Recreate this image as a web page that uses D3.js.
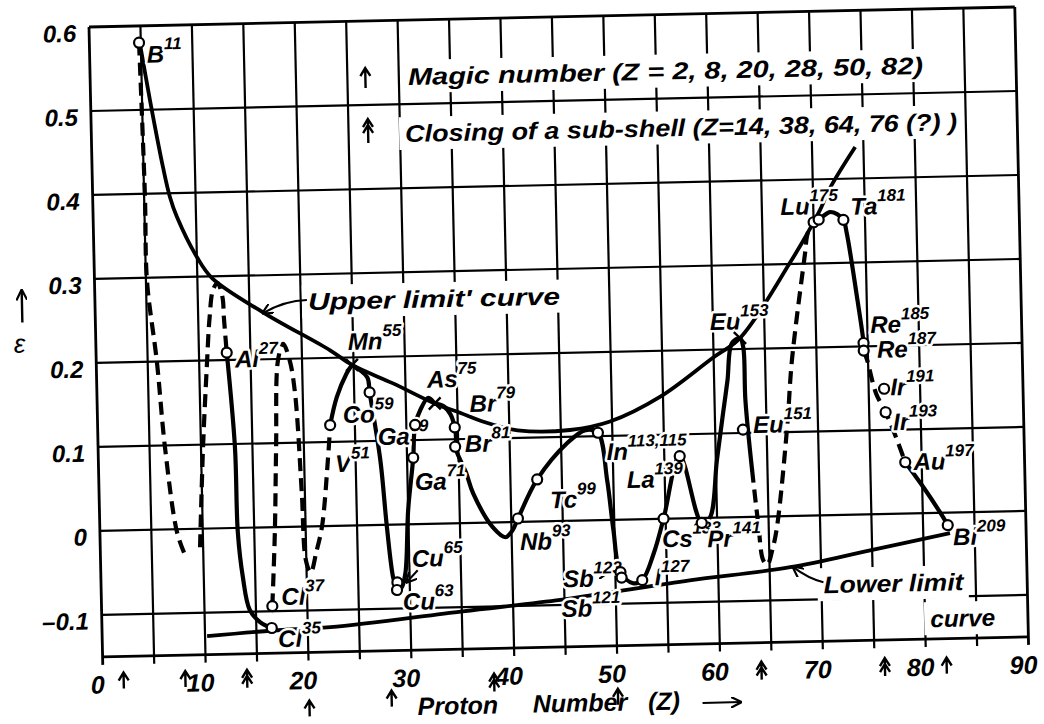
<!DOCTYPE html>
<meta charset="utf-8">
<script src="https://d3js.org/d3.v7.min.js"></script>
<style>
  body { margin: 0; background: #fff; }
  text { font-family: "Liberation Sans", Arial, sans-serif; font-style: italic; fill: #000; font-weight: bold; }
  .lab { font-size: 24px; stroke: #fff; stroke-width: 5px; paint-order: stroke; stroke-linejoin: round; }
  .tick text { font-size: 24px; font-weight: bold; }
</style>
<div id="chart"></div>
<script>
// the sheet was scanned a little crooked, so the whole plot is turned by "tilt"
var margin = { left: 89, top: 27 },
    width = 926, height = 630, tilt = -1.237;

// ---- data (Z, epsilon) ----
var xTicks = [0, 10, 20, 30, 40, 50, 60, 70, 80, 90];
var yTicks = [0.6, 0.5, 0.4, 0.3, 0.2, 0.1, 0, -0.1];
var magicZ = [2, 8, 20, 28, 50, 82];
var subShellZ = [14, 38, 64, 76];

var upperLimit = [[4.9,0.58],[5.77,0.5115],[6.9,0.431],[7.5,0.396],[8.15,0.3715],[10.0,0.3235],[11.43,0.298],
  [16.3,0.256],[22.75,0.209],[24.85,0.191],[28.8,0.168],[32.8,0.143],[35.3,0.131],[37.5,0.12],[40.8,0.109],
  [45.9,0.108],[49.8,0.117],[54.7,0.145],[59.9,0.19],[62.6,0.213],[67.6,0.301],[70.5,0.36],[71.7,0.39],[74.2,0.4375]];
var lowerLimit = [[10.2,-0.128],[16.6,-0.123],[22.2,-0.1205],[35.1,-0.105],[44.6,-0.094],[49.7,-0.086],
  [57.2,-0.074],[67,-0.061],[74.8,-0.043],[82.6,-0.0245]];

// measured curve, dashed parts
var dashB = [[4.83,0.58],[5.08,0.396],[5.1,0.297],[5.9,0.199],[6.5,0.098],[7.5,-0.004],[8.2,-0.03]];
var dashNa = [[9.7,-0.022],[10.2,0.097],[10.76,0.197],[11.1,0.25],[11.5,0.284],[11.95,0.292],[12.4,0.275],[12.5,0.25],[12.7,0.209]];
var dashK = [[16.6,-0.094],[17.0,-0.006],[17.3,0.095],[17.67,0.199],[18.2,0.218],[18.8,0.198],[19.25,0.159],
  [19.7,0.04],[19.95,-0.04],[20.4,-0.055],[21.0,-0.03],[21.6,0.0],[22.3,0.078],[22.6,0.12]];
var dashGd = [[63.5,0.056],[64.0,-0.01],[64.4,-0.052],[64.8,-0.057],[65.3,-0.04],[65.8,-0.013],[67.0,0.106],
  [67.6,0.185],[69.1,0.312],[69.4,0.336],[70.0,0.349]];
var dashIr = [[74.6,0.195],[74.9,0.184],[75.7,0.144],[76.6,0.121],[77.3,0.0995],[77.9,0.079],[78.4,0.061]];

// measured curve, solid parts
var solidAl = [[12.7,0.209],[13.3,0.096],[13.4,-0.005],[13.8,-0.059],[14.4,-0.098],[15.4,-0.113],[16.5,-0.12]];
var solidV = [[22.6,0.12],[23.3,0.153],[24.3,0.181],[24.85,0.191]];
var solidMn = [[24.85,0.191],[26.3,0.176],[26.5,0.158],[27.4,0.077],[27.9,-0.003],[28.4,-0.063],[28.75,-0.078]];
var solidCu = [[28.75,-0.078],[29.2,-0.075],[29.6,-0.058],[30.0,0.017],[30.6,0.079],[30.85,0.118],[31.4,0.136],[32.2,0.15],[32.8,0.143]];
var solidAs = [[32.8,0.143],[33.6,0.14],[34.3,0.13],[34.7,0.114],[34.8,0.1],[34.7,0.091],[35.7,0.06],[36.35,0.035],
  [38.2,-0.006],[39.4,-0.018],[40.1,-0.01],[40.65,0.004],[42.6,0.05],[45.6,0.0925],[47.4,0.1075],[48.6,0.104],
  [49.4,0.047],[49.9,-0.012],[50.5,-0.0625],[51.7,-0.076],[52.6,-0.0726],[53.8,-0.04],[54.8,0.0],[56.5,0.074],
  [58.5,-0.006],[59.3,0.0],[60.1,0.068],[60.8,0.124],[61.3,0.163],[61.8,0.207],[62.6,0.213],[62.9,0.202],[63.0,0.139],[63.5,0.056]];
var solidLu = [[70.0,0.349],[70.5,0.352],[71.6,0.3607],[72.3,0.358],[72.9,0.351],[73.2,0.335],[74.1,0.255],[74.6,0.204],[74.6,0.195]];
var solidAu = [[78.4,0.061],[80.1,0.031],[81.7,0.0],[82.4,-0.015]];

var openPoints = [[4.83,0.58],[12.7,0.209],[16.6,-0.094],[16.5,-0.12],[22.6,0.12],[26.5,0.158],[30.85,0.118],
  [30.6,0.079],[28.8,-0.069],[28.75,-0.078],[34.7,0.114],[34.7,0.091],[40.65,0.004],[42.6,0.05],[48.6,0.104],
  [50.5,-0.0625],[50.6,-0.069],[52.6,-0.0726],[54.8,0.0],[56.5,0.074],[58.5,-0.006],[62.7,0.104],[70.0,0.349],
  [70.5,0.352],[72.9,0.351],[74.6,0.204],[74.6,0.195],[76.5,0.149],[76.6,0.121],[78.4,0.061],[82.4,-0.015]];
var crossPoints = [[24.85,0.191],[32.8,0.143],[62.6,0.213]];

// element labels: symbol, mass number, Z, epsilon of the text baseline
var labels = [["B","11",5.56,0.556],["Al","27",13.5,0.191],["Cl","37",17.5,-0.093],["Cl","35",17.1,-0.143],
  ["V","51",23.0,0.064],["Mn","55",24.5,0.209],["Co","59",23.85,0.122],["Ga","69",27.2,0.095],
  ["Ga","71",30.7,0.0405],["Cu","65",30.25,-0.051],["Cu","63",29.3,-0.102],["As","75",32.1,0.162],
  ["Br","79",36.2,0.132],["Br","81",35.65,0.0844],["Nb","93",40.8,-0.0337],["Tc","99",43.8,0.0155],
  ["In","113,115",49.4,0.0712],["La","139",51.3,0.0374],["Cs","133",54.6,-0.034],["Pr","141",59.0,-0.035],
  ["Sb","123",44.9,-0.079],["Sb","121",44.7,-0.1145],["I","127",53.8,-0.079],["Eu","151",63.7,0.0997],
  ["Eu","153",59.7,0.2233],["Lu","175",66.8,0.3585],["Ta","181",73.6,0.357],["Re","185",75.3,0.2156],
  ["Re","187",75.9,0.186],["Ir","191",77.1,0.141],["Ir","193",77.3,0.0995],["Au","197",79.2,0.0514],
  ["Bi","209",82.9,-0.039]];

var svg = d3.select("#chart").append("svg")
  .attr("width", 1044).attr("height", 724)
  .style("background", "#fff");

svg.append("defs").append("marker")
  .attr("id", "head").attr("viewBox", "0 0 10 10").attr("refX", 9).attr("refY", 5)
  .attr("markerWidth", 11).attr("markerHeight", 11).attr("markerUnits", "userSpaceOnUse")
  .attr("orient", "auto")
  .append("path").attr("d", "M0,0 L10,5 L0,10").attr("fill", "none")
  .attr("stroke", "#000").attr("stroke-width", 2);

var g = svg.append("g")
  .attr("transform", "translate(" + margin.left + "," + margin.top + ") rotate(" + tilt + ")");

var x = d3.scaleLinear().domain([0, 90]).range([0, width]);
var y = d3.scaleLinear().domain([-0.15, 0.6]).range([height, 0]);

// grid
g.selectAll(".vgrid").data(d3.range(0, 91, 5)).enter().append("line")
  .attr("x1", function (d) { return x(d); }).attr("x2", function (d) { return x(d); })
  .attr("y1", 0).attr("y2", height + 8)
  .attr("stroke", "#000").attr("stroke-width", function (d) { return d == 0 || d == 90 ? 2.8 : 2.2; });
g.selectAll(".hgrid").data(yTicks.concat([-0.15])).enter().append("line")
  .attr("x1", 0).attr("x2", width)
  .attr("y1", function (d) { return y(d); }).attr("y2", function (d) { return y(d); })
  .attr("stroke", "#000").attr("stroke-width", function (d) { return d == 0.6 || d == -0.15 ? 2.8 : 2.2; });

// axes (labels only, the grid is the frame)
var xAxis = g.append("g").attr("transform", "translate(0," + height + ")")
  .call(d3.axisBottom(x).tickValues(xTicks).tickSize(0).tickPadding(19).tickFormat(d3.format("d")));
xAxis.select(".domain").remove();
xAxis.selectAll("text").attr("dx", -6).style("font-size", "25px");

var yAxis = g.append("g")
  .call(d3.axisLeft(y).tickValues(yTicks).tickSize(0).tickPadding(13)
    .tickFormat(function (d) { return d == 0 ? "0" : d < 0 ? "\u2013" + Math.abs(d).toFixed(1) : d.toFixed(1); }));
yAxis.select(".domain").remove();
yAxis.selectAll("text").attr("dy", "0.58em");

// curves
var line = d3.line()
  .x(function (d) { return x(d[0]); }).y(function (d) { return y(d[1]); })
  .curve(d3.curveCatmullRom.alpha(0.5));

[upperLimit, lowerLimit].forEach(function (c) {
  g.append("path").attr("d", line(c)).attr("fill", "none").attr("stroke", "#000").attr("stroke-width", 3.8);
});
[solidAl, solidV, solidMn, solidCu, solidAs, solidLu, solidAu].forEach(function (c) {
  g.append("path").attr("d", line(c)).attr("fill", "none").attr("stroke", "#000")
    .attr("stroke-width", 4.2).attr("stroke-linejoin", "round").attr("stroke-linecap", "round");
});
[dashB, dashNa, dashK, dashGd, dashIr].forEach(function (c) {
  g.append("path").attr("d", line(c)).attr("fill", "none").attr("stroke", "#000")
    .attr("stroke-width", 4.2).attr("stroke-dasharray", "13,7");
});

// curve captions on white patches
var legendG = g.append("g");
function caption(txt, zx, ey, len, size) {
  var t = legendG.append("text").attr("x", x(zx)).attr("y", y(ey))
    .attr("textLength", len).attr("lengthAdjust", "spacingAndGlyphs")
    .style("font-size", size + "px").text(txt);
  var b = t.node().getBBox();
  legendG.insert("rect", "text").attr("x", b.x - 6).attr("y", b.y - 3)
    .attr("width", b.width + 10).attr("height", b.height + 6).attr("fill", "#fff");
  return t;
}
caption("Upper  limit'  curve", 20.7, 0.2575, 252, 24);
caption("Lower limit", 70.2, -0.0927, 140, 24);
caption("curve", 80.5, -0.136, 65, 24);
caption("Magic number (Z = 2, 8, 20, 28, 50, 82)", 30.9, 0.5227, 515, 24);
caption("Closing of a sub-shell (Z=14, 38, 64, 76 (?) )", 30.5, 0.455, 552, 24);

// caption arrows
function arrow(a, b, bend) {
  var mx = (x(a[0]) + x(b[0])) / 2, my = (y(a[1]) + y(b[1])) / 2 - bend;
  g.append("path")
    .attr("d", "M" + x(a[0]) + "," + y(a[1]) + " Q" + mx + "," + my + " " + x(b[0]) + "," + y(b[1]))
    .attr("fill", "none").attr("stroke", "#000").attr("stroke-width", 2).attr("marker-end", "url(#head)");
}
arrow([20.6, 0.2694], [16.3, 0.255], 6);
arrow([70.2, -0.0797], [67.3, -0.061], -4);
arrow([47.5, -0.065], [49.3, -0.062], 0);
arrow([30.8, -0.055], [29.7, -0.069], 0);

// element labels
labels.forEach(function (d) {
  var t = g.append("text").attr("class", "lab").attr("x", x(d[2])).attr("y", y(d[3]));
  t.append("tspan").text(d[0]);
  t.append("tspan").attr("dy", -13).style("font-size", "17px").text(d[1]);
});

// points
g.selectAll(".pt").data(openPoints).enter().append("circle")
  .attr("cx", function (d) { return x(d[0]); }).attr("cy", function (d) { return y(d[1]); })
  .attr("r", 5).attr("fill", "#fff").attr("stroke", "#000").attr("stroke-width", 2.2);
g.selectAll(".cross").data(crossPoints).enter().append("path")
  .attr("d", function (d) {
    var cx = x(d[0]), cy = y(d[1]), s = 6;
    return "M" + (cx - s) + "," + (cy - s) + "L" + (cx + s) + "," + (cy + s) +
      "M" + (cx - s) + "," + (cy + s) + "L" + (cx + s) + "," + (cy - s);
  })
  .attr("stroke", "#000").attr("stroke-width", 2.4);

// shell markers: single head = magic number, double head = closing of a sub-shell
function marker(cx, top, bottom, heads) {
  var p = "M" + cx + "," + bottom + "L" + cx + "," + top;
  for (var i = 0; i < heads; i++) {
    var ty = top + i * 6;
    p += "M" + (cx - 5) + "," + (ty + 8) + "L" + cx + "," + ty + "L" + (cx + 5) + "," + (ty + 8);
  }
  g.append("path").attr("d", p).attr("fill", "none").attr("stroke", "#000").attr("stroke-width", 2.4);
}
var magicDrop = { 2: 16, 8: 16, 20: 48, 28: 40, 50: 43, 82: 19 };
var subDrop = { 14: 16, 38: 25, 64: 19, 76: 18 };
magicZ.forEach(function (z) { marker(x(z), height + magicDrop[z], height + magicDrop[z] + 16, 1); });
subShellZ.forEach(function (z) { marker(x(z), height + subDrop[z], height + subDrop[z] + 18, 2); });
marker(x(26.75), 47, 67, 1);
marker(x(26.9), 98, 122, 2);

// axis titles
var xt = [["Proton", 30.5], ["Number", 41.7], ["(Z)", 52.9]];
xt.forEach(function (d) {
  g.append("text").attr("x", x(d[1])).attr("y", height + 65)
    .style("font-size", "25px").text(d[0]);
});
g.append("path").attr("d", "M" + x(58.2) + "," + (height + 59) + "L" + x(61.9) + "," + (height + 59))
  .attr("stroke", "#000").attr("stroke-width", 2).attr("marker-end", "url(#head)");

g.append("path").attr("d", "M-73,294 L-73,262").attr("stroke", "#000").attr("stroke-width", 2.4)
  .attr("marker-end", "url(#head)");
g.append("text").attr("x", -82).attr("y", 324).style("font-size", "26px").style("font-weight", "normal").text("\u03b5");
</script>
